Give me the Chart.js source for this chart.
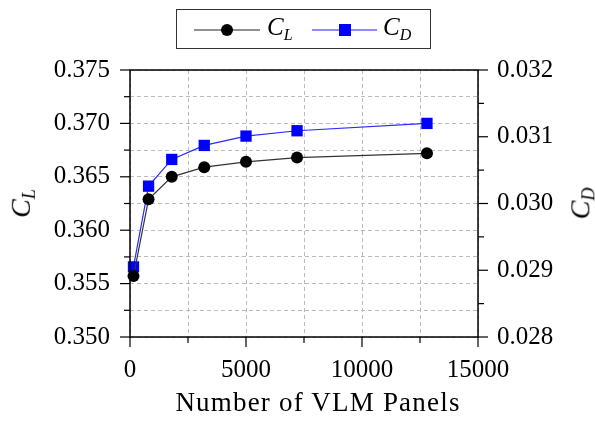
<!DOCTYPE html>
<html>
<head>
<meta charset="utf-8">
<script src="https://cdn.jsdelivr.net/npm/chart.js@4/dist/chart.umd.min.js"></script>
<style>
  body { margin: 0; background: #fff; }
  #wrap { position: relative; width: 595px; height: 421px; }
  canvas { position: absolute; left: 0; top: 0; }
  .serif { font-family: "Liberation Serif", serif; color: #000; }
  .ttl { position: absolute; font-size: 28px; font-style: italic; white-space: nowrap; }
  .ttl sub { font-size: 18px; vertical-align: -5px; }
  #xtitle { position: absolute; left: 0; width: 636px; top: 387px; text-align: center;
    font-size: 27px; letter-spacing: 1.2px; white-space: nowrap; }
  #legend { position: absolute; left: 176px; top: 9px; width: 253px; height: 38px;
    border: 1.5px solid #333; font-size: 25px; font-style: italic; }
  #legend span { position: absolute; top: 3px; white-space: nowrap; }
  #legend sub { font-size: 16px; vertical-align: -5px; }
  #legend svg { position: absolute; top: 0; left: 0; }
</style>
</head>
<body>
<div id="wrap">
  <canvas id="vlm" width="595" height="421"></canvas>
  <div id="legend" class="serif">
    <svg width="253" height="38">
      <line x1="17" y1="20" x2="83" y2="20" stroke="#222" stroke-width="1.2"/>
      <circle cx="50" cy="20" r="6" fill="#000"/>
      <line x1="135" y1="20" x2="200" y2="20" stroke="#1a1aff" stroke-width="1.2"/>
      <rect x="162" y="14" width="12" height="12" fill="#0000ff"/>
    </svg>
    <span style="left:90px">C<sub>L</sub></span>
    <span style="left:206px">C<sub>D</sub></span>
  </div>
  <div class="ttl serif" style="left:8px; top:186px; transform: rotate(-90deg);">C<sub>L</sub></div>
  <div class="ttl serif" style="left:566px; top:186px; transform: rotate(-90deg);">C<sub>D</sub></div>
  <div id="xtitle" class="serif">Number of VLM Panels</div>
</div>
<script>
// Number of panels vs lift / drag coefficients
var panels = [150, 800, 1800, 3200, 5000, 7200, 12800];
var liftCoef = [0.3557, 0.3629, 0.3650, 0.3659, 0.3664, 0.3668, 0.3672];
var dragCoef = [0.02905, 0.03026, 0.03066, 0.03087, 0.03101, 0.03109, 0.03120];

var xRange = [0, 15000];
var clRange = [0.350, 0.375];
var cdRange = [0.028, 0.032];

var tickFont = { family: 'Liberation Serif', size: 25 };

// outward tick marks (long for labelled ticks, short for the others) + frame
var tickMarks = {
    id: 'tickMarks',
    afterDraw: function(chart) {
        var ctx = chart.ctx, a = chart.chartArea;
        ctx.save();
        ctx.strokeStyle = '#000';
        ctx.lineWidth = 1.5;
        ctx.strokeRect(a.left, a.top, a.right - a.left, a.bottom - a.top);
        ctx.lineWidth = 1.2;
        ['x', 'y', 'y2'].forEach(function(id) {
            var s = chart.scales[id];
            s.ticks.forEach(function(t) {
                var len = t.label !== '' ? 10 : 6;
                var p = s.getPixelForValue(t.value);
                ctx.beginPath();
                if (id === 'x') { ctx.moveTo(p, a.bottom); ctx.lineTo(p, a.bottom + len); }
                else if (id === 'y') { ctx.moveTo(a.left, p); ctx.lineTo(a.left - len, p); }
                else { ctx.moveTo(a.right, p); ctx.lineTo(a.right + len, p); }
                ctx.stroke();
            });
        });
        ctx.restore();
    }
};

var ctx = document.getElementById('vlm').getContext('2d');
var chart = new Chart(ctx, {
    type: 'line',
    data: {
        datasets: [{
            label: 'CL',
            data: panels.map(function(p, i) { return { x: p, y: liftCoef[i] }; }),
            yAxisID: 'y',
            borderColor: '#333',
            borderWidth: 1.2,
            pointStyle: 'circle',
            pointRadius: 6,
            pointBackgroundColor: '#000',
            pointBorderColor: '#000',
            pointBorderWidth: 0,
            tension: 0,
            clip: false
        }, {
            label: 'CD',
            data: panels.map(function(p, i) { return { x: p, y: dragCoef[i] }; }),
            yAxisID: 'y2',
            borderColor: '#2a2aff',
            borderWidth: 1.2,
            pointStyle: 'rect',
            pointRadius: 8,
            pointBackgroundColor: '#0000ff',
            pointBorderColor: '#0000ff',
            pointBorderWidth: 0,
            tension: 0,
            clip: false
        }]
    },
    options: {
        responsive: false,
        animation: false,
        layout: { padding: { top: 70, left: 0, right: 0, bottom: 0 } },
        plugins: { legend: { display: false }, tooltip: { enabled: false } },
        scales: {
            x: {
                type: 'linear',
                min: xRange[0], max: xRange[1],
                afterFit: function(s) { s.height = 84; },
                border: { display: false, dash: [4, 3] },
                grid: { color: '#bbb', lineWidth: 1, drawTicks: false },
                ticks: {
                    stepSize: 2500, padding: 18, color: '#000', font: tickFont, maxRotation: 0,
                    autoSkip: false,
                    callback: function(v) { return v % 5000 === 0 ? String(v) : ''; }
                }
            },
            y: {
                position: 'left',
                min: clRange[0], max: clRange[1],
                afterFit: function(s) { s.width = 130; },
                border: { display: false, dash: [4, 3] },
                grid: { color: '#bbb', lineWidth: 1, drawTicks: false },
                ticks: {
                    stepSize: 0.0025, padding: 20, color: '#000', font: tickFont, autoSkip: false,
                    callback: function(v) { return Math.round(v * 10000) % 50 === 0 ? v.toFixed(3) : ''; }
                }
            },
            y2: {
                position: 'right',
                min: cdRange[0], max: cdRange[1],
                afterFit: function(s) { s.width = 117; },
                border: { display: false },
                grid: { drawOnChartArea: false, drawTicks: false },
                ticks: {
                    stepSize: 0.0005, padding: 19, color: '#000', font: tickFont, autoSkip: false,
                    callback: function(v) { return Math.round(v * 10000) % 10 === 0 ? v.toFixed(3) : ''; }
                }
            }
        }
    },
    plugins: [tickMarks]
});
</script>
</body>
</html>
